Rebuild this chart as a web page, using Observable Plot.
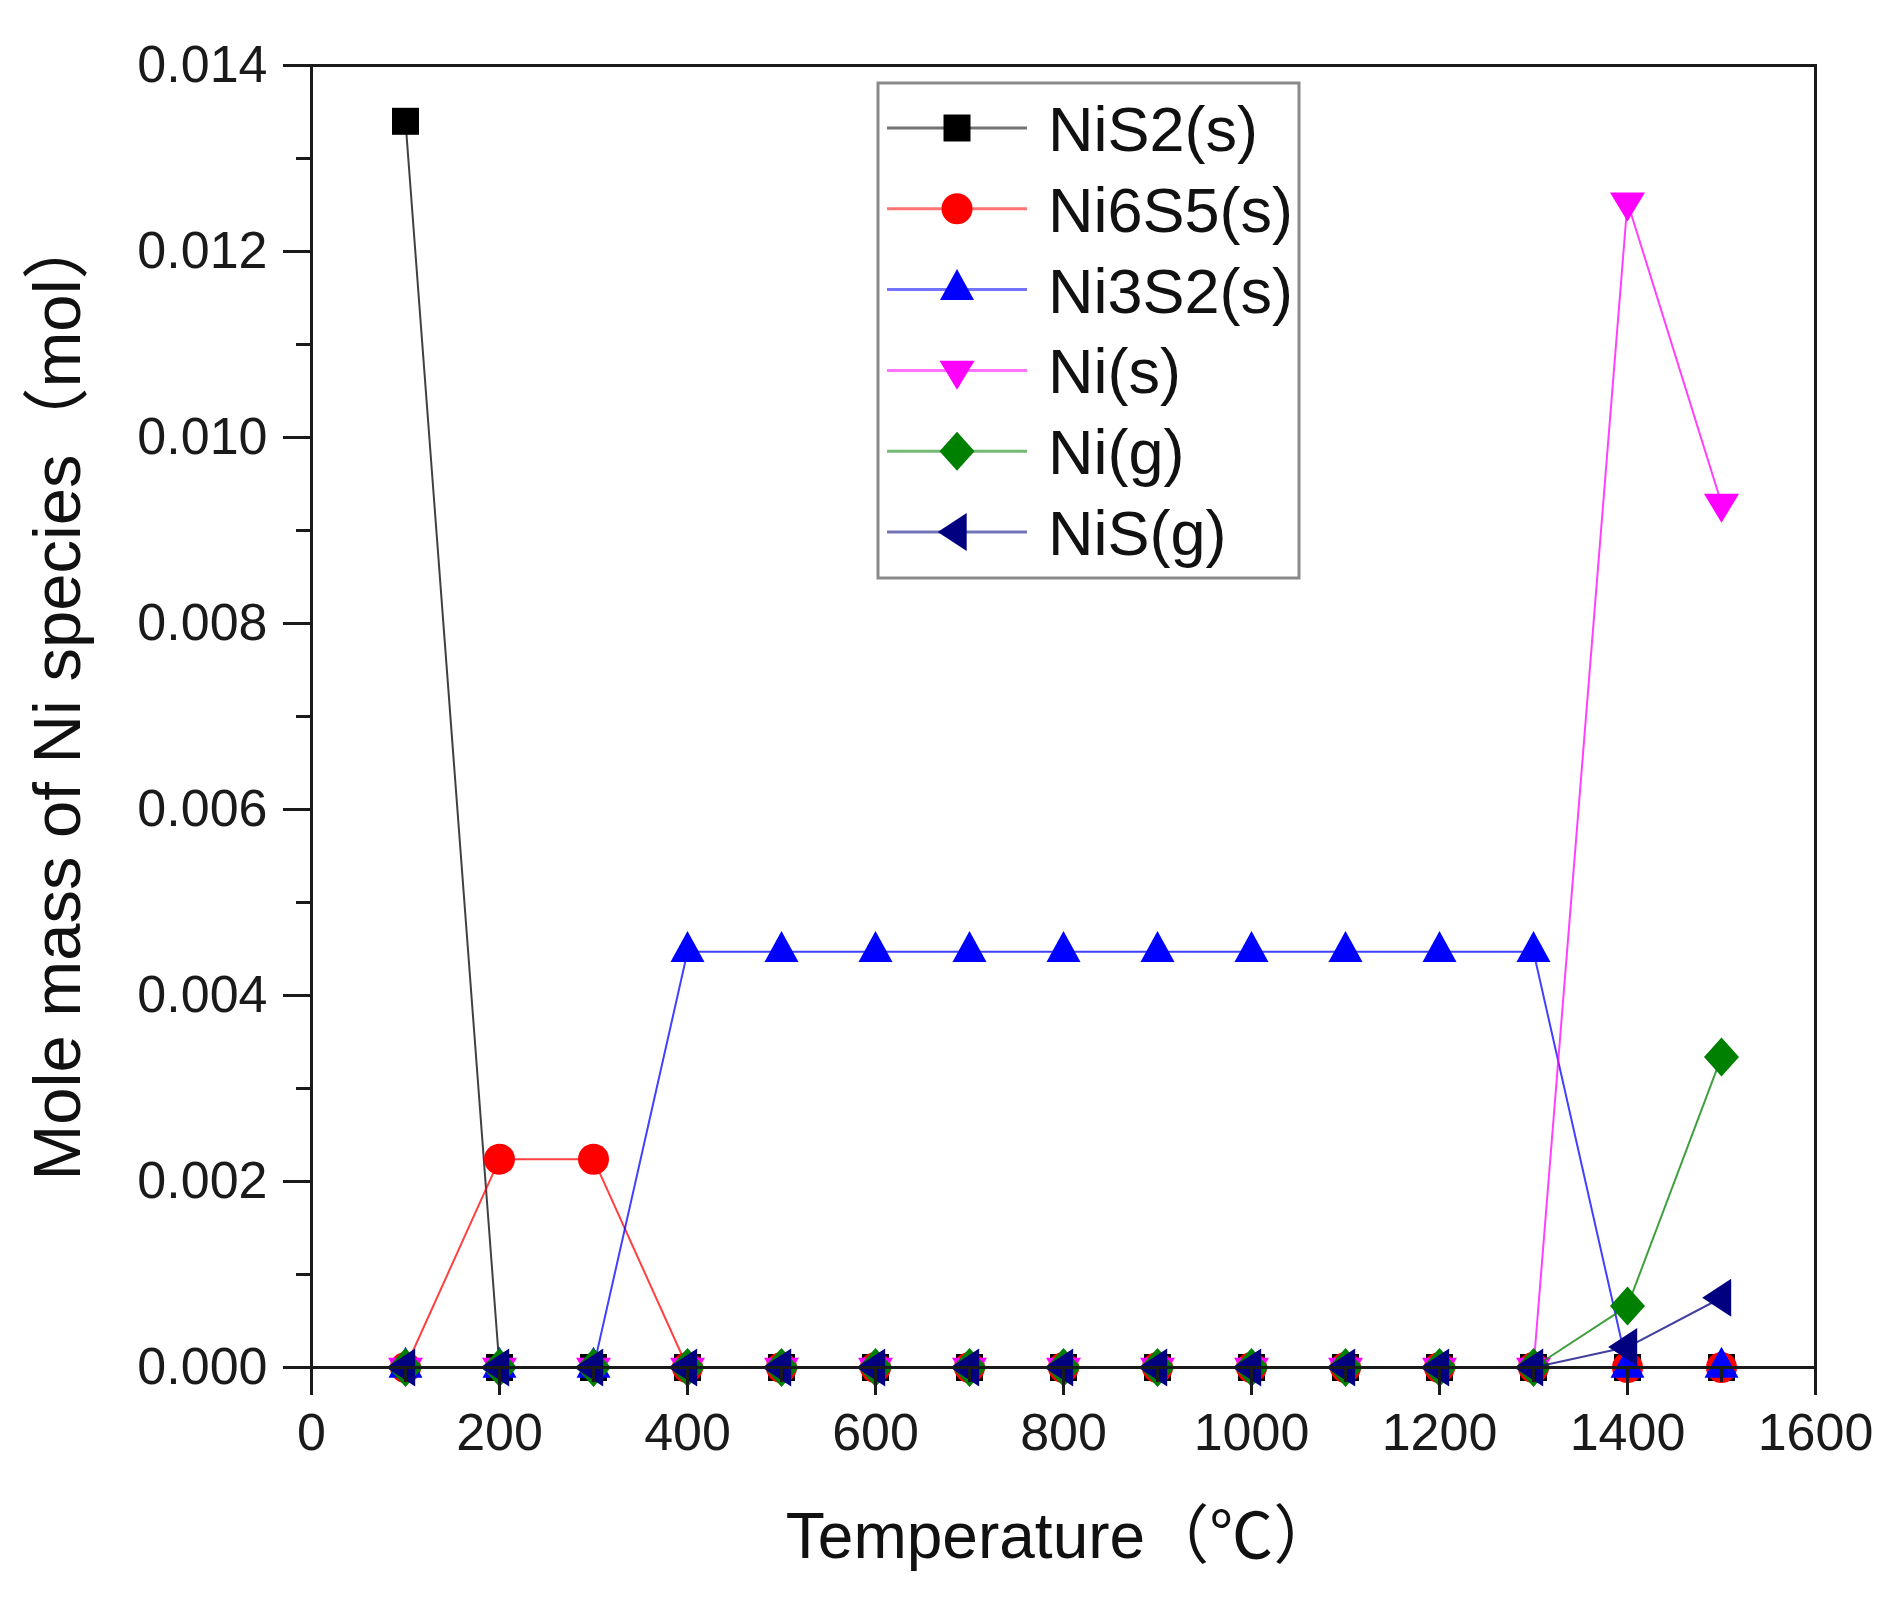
<!DOCTYPE html>
<html>
<head>
<meta charset="utf-8">
<script src="https://cdn.jsdelivr.net/npm/d3@7"></script>
<script src="https://cdn.jsdelivr.net/npm/@observablehq/plot@0.6"></script>
<style>
  html, body { margin: 0; padding: 0; background: #fff; }
  #chart { position: relative; width: 1901px; height: 1603px; }
</style>
</head>
<body>
<div id="chart"></div>
<script>
// ---------- data ----------
const temperatures = [100, 200, 300, 400, 500, 600, 700, 800, 900, 1000, 1100, 1200, 1300, 1400, 1500];
const NiS2_s  = [0.0134, 0, 0, 0, 0, 0, 0, 0, 0, 0, 0, 0, 0, 0, 0];
const Ni6S5_s = [0, 0.00224, 0.00224, 0, 0, 0, 0, 0, 0, 0, 0, 0, 0, 0, 0];
const Ni3S2_s = [0, 0, 0, 0.00447, 0.00447, 0.00447, 0.00447, 0.00447, 0.00447, 0.00447, 0.00447, 0.00447, 0.00447, 0, 0];
const Ni_s    = [0, 0, 0, 0, 0, 0, 0, 0, 0, 0, 0, 0, 0, 0.01253, 0.00929];
const Ni_g    = [0, 0, 0, 0, 0, 0, 0, 0, 0, 0, 0, 0, 0, 0.00066, 0.00334];
const NiS_g   = [0, 0, 0, 0, 0, 0, 0, 0, 0, 0, 0, 0, 0, 0.00022, 0.00075];

const seriesNames  = ["NiS2(s)", "Ni6S5(s)", "Ni3S2(s)", "Ni(s)", "Ni(g)", "NiS(g)"];
const seriesValues = [NiS2_s, Ni6S5_s, Ni3S2_s, Ni_s, Ni_g, NiS_g];
const seriesColors = ["#000000", "#ff0000", "#0000ff", "#ff00ff", "#008000", "#000080"];

const xMajorTicks = [0, 200, 400, 600, 800, 1000, 1200, 1400, 1600];
const xMinorTicks = [100, 300, 500, 700, 900, 1100, 1300, 1500];
const yMajorTicks = [0, 0.002, 0.004, 0.006, 0.008, 0.010, 0.012, 0.014];
const yMinorTicks = [0.001, 0.003, 0.005, 0.007, 0.009, 0.011, 0.013];

const xTitle = "Temperature（℃）";
const yTitle = "Mole mass of Ni species（mol）";

// ---------- marker shapes ----------
function polySymbol(pts) {
  return {
    draw(ctx, size) {
      const k = Math.sqrt(size / Math.PI) / 10;
      ctx.moveTo(pts[0][0] * k, pts[0][1] * k);
      for (let i = 1; i < pts.length; i++) ctx.lineTo(pts[i][0] * k, pts[i][1] * k);
      ctx.closePath();
    }
  };
}
const circleSymbol = {
  draw(ctx, size) {
    const R = 15.5 * Math.sqrt(size / Math.PI) / 10;
    ctx.moveTo(R, 0);
    ctx.arc(0, 0, R, 0, 2 * Math.PI);
  }
};
const seriesSymbols = [
  polySymbol([[-13.5, -13.5], [13.5, -13.5], [13.5, 13.5], [-13.5, 13.5]]),
  circleSymbol,
  polySymbol([[0, -20.7], [17, 10.3], [-17, 10.3]]),
  polySymbol([[0, 19.3], [17.5, -9.7], [-17.5, -9.7]]),
  polySymbol([[0, -19.5], [17.5, 0], [0, 19.5], [-17.5, 0]]),
  polySymbol([[-19.3, 0], [9.7, -19], [9.7, 19]])
];

const FONT = "'Liberation Sans', Arial, 'Noto Sans CJK SC', sans-serif";
const INK = "#1a1a1a";

// ---------- marks ----------
const marks = [];
seriesValues.forEach((vals, s) => {
  const rows = temperatures.map((t, i) => ({t, v: vals[i]}));
  marks.push(Plot.line(rows, {x: "t", y: "v", stroke: seriesColors[s], strokeWidth: 2, strokeOpacity: 0.75}));
  marks.push(Plot.dot(rows, {x: "t", y: "v", symbol: seriesSymbols[s], r: 10, fill: seriesColors[s], stroke: "none"}));
});

marks.push(Plot.frame({stroke: INK, strokeWidth: 3}));
marks.push(Plot.axisX(xMajorTicks, {anchor: "bottom", tickSize: 28, tickPadding: 18, strokeWidth: 3, color: INK,
  fontSize: 52, fontFamily: FONT, label: null, tickFormat: d => String(d)}));
marks.push(Plot.axisX(xMinorTicks, {anchor: "bottom", tickSize: 15, strokeWidth: 3, color: INK, label: null, tickFormat: () => ""}));
marks.push(Plot.axisY(yMajorTicks, {anchor: "left", tickSize: 28, tickPadding: 16, strokeWidth: 3, color: INK,
  fontSize: 52, fontFamily: FONT, label: null, tickFormat: d3.format(".3f")}));
marks.push(Plot.axisY(yMinorTicks, {anchor: "left", tickSize: 15, strokeWidth: 3, color: INK, label: null, tickFormat: () => ""}));

marks.push(Plot.text([xTitle], {frameAnchor: "bottom", text: d => d, dy: 170, dx: -2, lineAnchor: "middle",
  textAnchor: "middle", fontSize: 64, fontFamily: FONT, fill: "#111"}));
marks.push(Plot.text([yTitle], {frameAnchor: "left", text: d => d, rotate: -90, dx: -253, dy: -20, lineAnchor: "middle",
  textAnchor: "middle", fontSize: 67, fontFamily: FONT, fill: "#111"}));

const svg = Plot.plot({
  width: 1901,
  height: 1603,
  marginLeft: 311,
  marginRight: 86,
  marginTop: 65,
  marginBottom: 236,
  x: {domain: [0, 1600]},
  y: {domain: [0, 0.014]},
  style: {background: "#fff", fontFamily: FONT, overflow: "visible"},
  marks
});

// ---------- legend ----------
const legendBox = {x0: 878, y0: 83, x1: 1299, y1: 578};
const legendRow0 = 128, legendStep = 80.8;
const lg = d3.select(svg).append("g").attr("class", "legend");
lg.append("rect")
  .attr("x", legendBox.x0).attr("y", legendBox.y0)
  .attr("width", legendBox.x1 - legendBox.x0).attr("height", legendBox.y1 - legendBox.y0)
  .attr("fill", "#fff").attr("stroke", "#8a8a8a").attr("stroke-width", 3);
seriesNames.forEach((name, i) => {
  const cy = legendRow0 + i * legendStep;
  lg.append("line").attr("x1", 887).attr("x2", 1027).attr("y1", cy).attr("y2", cy)
    .attr("stroke", seriesColors[i]).attr("stroke-width", 3).attr("stroke-opacity", 0.55);
  lg.append("path").attr("transform", `translate(957,${cy})`)
    .attr("d", d3.symbol().type(seriesSymbols[i]).size(Math.PI * 100)())
    .attr("fill", seriesColors[i]);
  lg.append("text").attr("x", 1048).attr("y", cy + 23)
    .attr("text-anchor", "start")
    .attr("font-size", 63).attr("font-family", FONT).attr("fill", "#111")
    .text(name);
});

document.getElementById("chart").appendChild(svg);
</script>
</body>
</html>
